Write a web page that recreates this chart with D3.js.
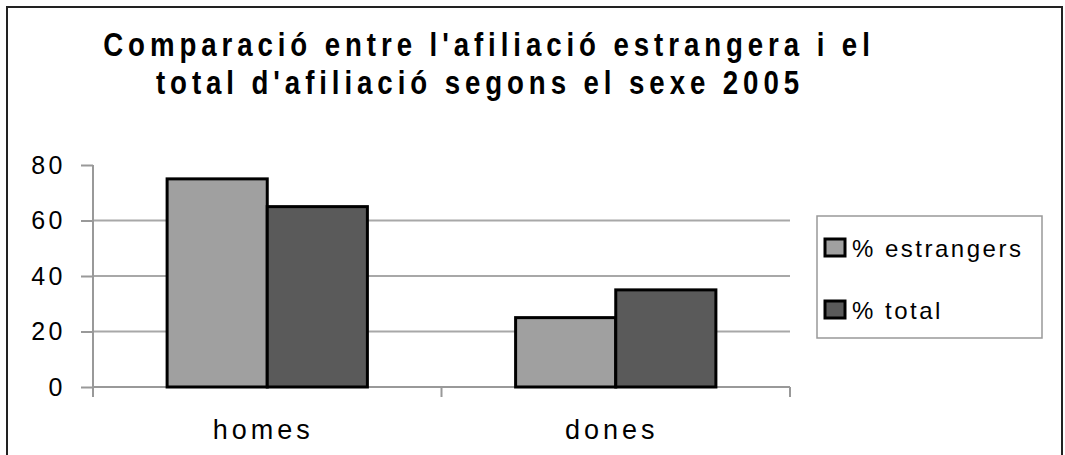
<!DOCTYPE html>
<html>
<head>
<meta charset="utf-8">
<script src="https://cdn.jsdelivr.net/npm/d3@7"></script>
<style>
  body { margin: 0; background: #fff; }
  text { font-family: "Liberation Sans", Arial, sans-serif; fill: #000; }
</style>
</head>
<body>
<div id="chart"></div>
<script>
const categories = ["homes", "dones"];
const series = ["% estrangers", "% total"];
const estrangers = [75, 25];
const total = [65, 35];
const yTicks = [0, 20, 40, 60, 80];
const titleLines = ["Comparació entre l'afiliació estrangera i el", "total d'afiliació segons el sexe 2005"];

const colors = ["#a0a0a0", "#5a5a5a"];
const data = categories.map((c, i) => ({ cat: c, values: [estrangers[i], total[i]] }));

const W = 1065, H = 455;
const plot = { left: 93, right: 790, top: 165, bottom: 387 };

const svg = d3.select("#chart")
    .append("svg")
    .attr("width", W)
    .attr("height", H);

// outer frame (bottom edge cut off in the original)
svg.append("path")
    .attr("d", `M7,${H} V7 H1062 V${H}`)
    .attr("fill", "none")
    .attr("stroke", "#222")
    .attr("stroke-width", 2);

// title: narrow bold glyphs, wide spacing
const sx = 0.85;
svg.append("g")
    .attr("transform", `scale(${sx},1)`)
    .selectAll("text")
    .data(titleLines)
    .join("text")
    .attr("x", (d, i) => (i === 0 ? 489 : 480) / sx)
    .attr("y", (d, i) => 56 + i * 38)
    .attr("text-anchor", "middle")
    .attr("font-size", 32.5)
    .attr("font-weight", "bold")
    .attr("letter-spacing", 5.8)
    .text(d => d);

const x = d3.scaleBand()
    .domain(categories)
    .range([plot.left, plot.right])
    .padding(0);

const x1 = d3.scaleBand()
    .domain(series)
    .range([0, x.bandwidth()])
    .paddingInner(0)
    .paddingOuter(0.74);

const y = d3.scaleLinear()
    .domain([0, 80])
    .range([plot.bottom, plot.top]);

// gridlines
svg.append("g")
    .selectAll("line")
    .data(yTicks.filter(d => d > 0 && d < 80))
    .join("line")
    .attr("x1", plot.left)
    .attr("x2", plot.right)
    .attr("y1", d => y(d))
    .attr("y2", d => y(d))
    .attr("stroke", "#a8a8a8")
    .attr("stroke-width", 2);

// y axis
const yAxis = svg.append("g")
    .attr("transform", `translate(${plot.left},0)`)
    .call(d3.axisLeft(y).tickValues(yTicks).tickSize(12).tickPadding(15));
yAxis.select(".domain").remove();
yAxis.selectAll(".tick line").attr("stroke", "#999").attr("stroke-width", 2);
yAxis.selectAll(".tick text")
    .attr("font-size", 25)
    .attr("letter-spacing", 3.5)
    .attr("font-family", "Liberation Sans, Arial, sans-serif")
    .attr("fill", "#000");
yAxis.append("line")
    .attr("y1", plot.top)
    .attr("y2", plot.bottom + 10)
    .attr("stroke", "#999")
    .attr("stroke-width", 2);

// x axis
const xAxis = svg.append("g")
    .attr("transform", `translate(0,${plot.bottom})`);
xAxis.append("line")
    .attr("x1", plot.left)
    .attr("x2", plot.right)
    .attr("stroke", "#999")
    .attr("stroke-width", 2);
xAxis.selectAll(".xtick")
    .data(categories.map(c => x(c)).concat([plot.right]))
    .join("line")
    .attr("class", "xtick")
    .attr("x1", d => d)
    .attr("x2", d => d)
    .attr("y1", 0)
    .attr("y2", 10)
    .attr("stroke", "#999")
    .attr("stroke-width", 2);
xAxis.selectAll(".xlabel")
    .data(categories)
    .join("text")
    .attr("class", "xlabel")
    .attr("x", d => x(d) + x.bandwidth() / 2 - 4)
    .attr("y", 52)
    .attr("text-anchor", "middle")
    .attr("font-size", 27)
    .attr("letter-spacing", 4)
    .text(d => d);

// bars
svg.append("g")
    .selectAll("g")
    .data(data)
    .join("g")
    .attr("transform", d => `translate(${x(d.cat)},0)`)
    .selectAll("rect")
    .data(d => d.values.map((v, i) => ({ key: series[i], value: v, i })))
    .join("rect")
    .attr("x", d => x1(d.key))
    .attr("y", d => y(d.value))
    .attr("width", x1.bandwidth())
    .attr("height", d => y(0) - y(d.value))
    .attr("fill", d => colors[d.i])
    .attr("stroke", "#000")
    .attr("stroke-width", 3);

// legend
const legend = svg.append("g")
    .attr("transform", "translate(817,216)");
legend.append("rect")
    .attr("width", 225)
    .attr("height", 122)
    .attr("fill", "#fff")
    .attr("stroke", "#999")
    .attr("stroke-width", 1.5);
const items = legend.selectAll(".item")
    .data(series)
    .join("g")
    .attr("class", "item")
    .attr("transform", (d, i) => `translate(8,${23 + i * 62})`);
items.append("rect")
    .attr("width", 20)
    .attr("height", 17)
    .attr("fill", (d, i) => colors[i])
    .attr("stroke", "#000")
    .attr("stroke-width", 3);
items.append("text")
    .attr("x", 27)
    .attr("y", 18)
    .attr("font-size", 24)
    .attr("letter-spacing", 2.5)
    .text(d => d);
</script>
</body>
</html>
